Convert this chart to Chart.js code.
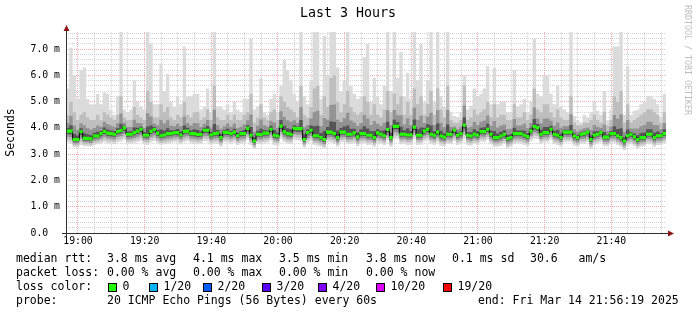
<!DOCTYPE html>
<html>
<head>
<meta charset="utf-8">
<script src="https://cdn.jsdelivr.net/npm/chart.js@4.4.1/dist/chart.umd.min.js"></script>
<style>
  html, body { margin: 0; padding: 0; background: #fff; }
  canvas { display: block; }
</style>
</head>
<body>
<canvas id="chart" width="697" height="315"></canvas>
<script>
// Smokeping "Last 3 Hours" — one sample per minute, x in minutes since midnight
const startMin = 1136.4;           // 18:56:24, first sample
const timeLabels = ['19:00', '19:20', '19:40', '20:00', '20:20', '20:40', '21:00', '21:20', '21:40'];
const yLabels = ['0.0', '1.0 m', '2.0 m', '3.0 m', '4.0 m', '5.0 m', '6.0 m', '7.0 m'];

// median rtt (ms)
const median = [
  3.88,3.88,3.56,3.56,3.86,3.60,3.60,3.58,3.69,3.69,3.78,3.87,3.80,3.78,3.76,3.86,3.90,4.00,3.76,3.76,3.82,3.88,3.95,3.72,3.72,3.87,3.94,3.80,3.70,3.73,3.78,3.78,3.82,3.82,3.73,3.87,
  3.88,3.78,3.78,3.75,3.76,3.91,3.91,3.73,3.78,3.80,3.63,3.83,3.83,3.78,3.84,3.70,3.78,3.78,3.98,3.72,3.50,3.76,3.74,3.80,3.80,3.95,3.72,3.69,4.07,3.85,3.78,3.76,3.98,3.97,3.97,3.56,
  3.82,3.91,3.70,3.70,3.63,3.56,3.84,3.84,3.78,3.63,3.84,3.84,3.76,3.76,3.81,3.66,3.78,3.78,3.72,3.72,3.63,3.81,3.76,3.70,3.94,3.63,4.06,4.06,3.76,3.76,3.73,3.73,4.03,3.72,3.72,3.88,
  3.95,3.76,3.72,3.84,3.69,3.65,3.76,3.76,3.91,3.72,3.78,4.10,3.72,3.69,3.76,3.72,3.86,3.86,3.95,3.76,3.63,3.63,3.69,3.76,3.59,3.63,3.78,3.78,3.78,3.72,3.67,3.88,4.05,4.01,3.76,3.82,
  3.82,3.95,3.76,3.72,3.63,3.84,3.84,3.84,3.69,3.63,3.76,3.78,3.84,3.56,3.72,3.76,3.82,3.65,3.65,3.78,3.78,3.70,3.63,3.50,3.70,3.76,3.66,3.55,3.63,3.63,3.76,3.76,3.63,3.70,3.70,3.78
];
// slowest ping of each round (top of the light smoke)
const pingMax = [
  5.5,7.05,6.0,5.1,6.2,6.3,5.1,4.9,4.9,5.3,4.9,5.35,5.3,4.7,4.5,5.2,7.65,4.7,4.6,4.7,5.8,5.0,4.8,4.7,7.65,7.2,4.9,4.9,6.45,5.4,6.05,5.0,4.8,5.2,4.9,7.1,
  5.2,5.2,5.3,5.3,4.7,4.8,5.5,4.6,7.65,4.8,4.8,4.7,4.9,4.6,5.0,4.7,4.6,5.1,5.1,7.4,4.7,4.8,5.9,4.6,4.5,5.1,5.3,4.6,5.6,6.6,6.2,5.8,5.3,5.0,7.65,5.2,
  4.9,5.8,7.65,7.65,5.1,7.5,6.0,7.65,7.65,6.3,5.4,5.8,7.65,5.6,5.3,5.1,5.2,6.7,7.2,5.0,5.9,5.2,4.9,5.6,7.65,5.4,7.65,5.9,6.9,5.2,6.1,5.1,7.65,5.8,7.2,5.0,
  5.8,7.65,5.0,7.65,5.2,4.8,7.65,4.6,4.45,4.4,4.6,6.0,4.7,4.85,5.5,5.2,5.3,5.5,6.35,4.9,6.3,4.9,5.0,5.0,4.6,4.6,6.2,4.8,4.9,5.1,4.6,5.0,7.4,5.3,5.2,6.0,
  6.0,5.3,4.9,5.6,4.8,4.7,4.6,7.65,4.45,4.3,4.2,4.5,4.4,4.6,5.0,4.65,4.5,5.4,4.3,4.7,7.1,7.1,7.65,4.5,6.35,4.5,4.65,4.7,4.9,5.0,5.2,5.2,5.1,4.9,4.4,5.3
];
// top of the medium grey smoke
const pingUpper = [
  4.5,5.0,4.6,4.3,4.5,4.6,4.4,4.3,4.3,4.5,4.3,4.6,4.5,4.4,4.3,4.5,5.2,4.4,4.3,4.3,4.8,4.5,4.4,4.3,5.4,5.0,4.4,4.4,4.9,4.6,4.8,4.4,4.3,4.5,4.4,5.0,
  4.5,4.4,4.6,4.6,4.3,4.4,4.7,4.3,5.6,4.4,4.3,4.3,4.5,4.3,4.5,4.3,4.3,4.5,4.6,5.3,4.2,4.4,4.9,4.4,4.3,4.6,4.7,4.3,5.2,5.0,4.8,4.7,4.6,4.4,5.6,4.5,
  4.4,4.8,5.5,5.6,4.5,5.2,4.8,5.9,6.0,5.0,4.6,4.9,5.4,4.8,4.6,4.5,4.6,5.2,5.0,4.5,4.9,4.5,4.4,4.7,5.4,4.6,5.3,4.9,5.2,4.5,5.0,4.5,5.5,4.9,5.2,4.5,
  4.9,5.4,4.5,5.5,4.7,4.4,5.6,4.3,4.2,4.2,4.3,5.6,4.3,4.4,4.7,4.5,4.6,4.7,5.0,4.4,4.9,4.4,4.5,4.5,4.3,4.3,4.9,4.4,4.4,4.6,4.3,4.5,5.5,4.7,4.6,4.9,
  4.9,4.6,4.4,4.7,4.4,4.3,4.3,5.2,4.2,4.1,4.1,4.2,4.2,4.3,4.5,4.3,4.2,4.6,4.1,4.3,5.2,5.0,5.4,4.2,4.9,4.2,4.3,4.4,4.5,4.6,4.7,4.7,4.6,4.5,4.2,4.6
];
// fastest ping of each round (bottom of the smoke)
const pingMin = [
  3.45,3.40,3.25,3.25,3.35,3.30,3.30,3.28,3.35,3.38,3.40,3.45,3.42,3.40,3.38,3.45,3.48,3.55,3.38,3.40,3.42,3.45,3.50,3.38,3.35,3.45,3.50,3.42,3.35,3.38,3.40,3.42,3.45,3.44,3.38,3.45,
  3.50,3.42,3.40,3.38,3.40,3.50,3.48,3.35,3.40,3.42,3.28,3.45,3.44,3.40,3.45,3.35,3.40,3.42,3.55,3.35,3.20,3.40,3.38,3.42,3.44,3.52,3.35,3.32,3.60,3.45,3.40,3.38,3.55,3.52,3.50,3.25,
  3.42,3.50,3.35,3.32,3.28,3.22,3.45,3.44,3.40,3.28,3.45,3.46,3.38,3.40,3.42,3.30,3.40,3.42,3.35,3.36,3.28,3.42,3.40,3.35,3.52,3.28,3.60,3.58,3.38,3.40,3.35,3.36,3.60,3.35,3.36,3.48,
  3.52,3.40,3.35,3.45,3.32,3.30,3.40,3.38,3.50,3.35,3.40,3.62,3.35,3.32,3.40,3.35,3.48,3.46,3.55,3.38,3.28,3.28,3.32,3.40,3.22,3.28,3.40,3.42,3.40,3.35,3.30,3.50,3.60,3.58,3.40,3.45,
  3.45,3.55,3.38,3.35,3.28,3.46,3.45,3.46,3.32,3.28,3.40,3.40,3.46,3.20,3.35,3.40,3.45,3.30,3.30,3.40,3.42,3.35,3.28,3.15,3.32,3.38,3.30,3.20,3.28,3.30,3.40,3.38,3.28,3.35,3.35,3.42
];

const lossLabels = ['0', '1/20', '2/20', '3/20', '4/20', '10/20', '19/20'];
const lossColors = ['#22ff00', '#00b4ff', '#005cff', '#5a00ff', '#8000ff', '#dd00ff', '#ff0000'];

const MONO = '"DejaVu Sans Mono", monospace';
const GRID_MINOR = 'rgba(150,150,150,0.42)';
const GRID_MAJOR = 'rgba(225,70,70,0.45)';

const toMin = s => { const [h, m] = s.split(':').map(Number); return h * 60 + m; };
const fmtMin = v => { const h = Math.floor(v / 60), m = Math.round(v % 60); return h + ':' + String(m).padStart(2, '0'); };
const majorMinutes = timeLabels.map(toMin);

// step lines: value i holds from startMin+i to startMin+i+1
const toPts = arr => arr.map((v, i) => ({ x: startMin + i, y: v })).concat([{ x: startMin + arr.length, y: arr[arr.length - 1] }]);
const mix = (a, b, k) => a.map((v, i) => v + (b[i] - v) * k);

// smoke shades, outer to inner
const smoke = [
  { lo: pingMin, hi: pingMax, color: '#dbdbdb' },
  { lo: mix(median, pingMin, 0.75), hi: pingUpper, color: '#bebebe' },
  { lo: mix(median, pingMin, 0.5), hi: mix(median, pingUpper, 0.5), color: '#939393' },
  { lo: mix(median, pingMin, 0.25), hi: mix(median, pingUpper, 0.2), color: '#555555' }
];

const base = { stepped: 'before', pointRadius: 0, borderWidth: 0, borderColor: 'transparent', fill: false };
const datasets = [];
smoke.forEach((s, j) => {
  datasets.push({ ...base, data: toPts(s.lo), order: 20 - 2 * j });
  datasets.push({ ...base, data: toPts(s.hi), fill: '-1', backgroundColor: s.color, order: 20 - 2 * j });
});
datasets.push({ ...base, data: toPts(median), borderWidth: 1, borderColor: '#000', order: 4 });
datasets.push({ ...base, data: toPts(median.map(v => v - 0.06)), order: 2 });
datasets.push({ ...base, data: toPts(median.map(v => v + 0.06)), fill: '-1', backgroundColor: lossColors[0], order: 2 });

const rrdText = {
  id: 'rrdText',
  beforeDraw(chart) {
    const ctx = chart.ctx;
    ctx.save();
    ctx.fillStyle = '#fff';
    ctx.fillRect(0, 0, chart.width, chart.height);
    ctx.restore();
  },
  afterDraw(chart) {
    const ctx = chart.ctx;
    const { left, right, bottom, top } = chart.chartArea;
    ctx.save();

    // axes with arrows
    ctx.strokeStyle = '#303030';
    ctx.lineWidth = 1;
    ctx.beginPath();
    ctx.moveTo(left + 0.5, bottom + 4);
    ctx.lineTo(left + 0.5, top - 3);
    ctx.moveTo(left - 4, bottom + 0.5);
    ctx.lineTo(right + 3, bottom + 0.5);
    ctx.stroke();
    ctx.fillStyle = '#8a1515';
    ctx.beginPath();
    ctx.moveTo(left + 0.5, top - 7);
    ctx.lineTo(left - 2.5, top - 1);
    ctx.lineTo(left + 3.5, top - 1);
    ctx.closePath();
    ctx.fill();
    ctx.beginPath();
    ctx.moveTo(right + 8, bottom + 0.5);
    ctx.lineTo(right + 2, bottom - 2.5);
    ctx.lineTo(right + 2, bottom + 3.5);
    ctx.closePath();
    ctx.fill();

    // title
    ctx.fillStyle = '#000';
    ctx.font = '13.3px ' + MONO;
    ctx.textAlign = 'center';
    ctx.textBaseline = 'middle';
    ctx.fillText('Last 3 Hours', 348, 14);

    // watermark
    ctx.save();
    ctx.translate(687, 5);
    ctx.rotate(Math.PI / 2);
    ctx.font = '8.3px ' + MONO;
    ctx.fillStyle = '#bdbdbd';
    ctx.textAlign = 'left';
    ctx.fillText('RRDTOOL / TOBI OETIKER', 0, 0);
    ctx.restore();

    // legend
    ctx.font = '11.5px ' + MONO;
    ctx.textAlign = 'left';
    ctx.textBaseline = 'middle';
    ctx.fillStyle = '#000';
    const rows = [
      [259, [[16, 'median rtt:'], [107, '3.8 ms avg'], [193, '4.1 ms max'], [279, '3.5 ms min'], [366, '3.8 ms now'], [452, '0.1 ms sd'], [530, '30.6   am/s']]],
      [273, [[16, 'packet loss:'], [107, '0.00 % avg'], [193, '0.00 % max'], [279, '0.00 % min'], [366, '0.00 % now']]],
      [287, [[16, 'loss color:']]],
      [301, [[16, 'probe:'], [107, '20 ICMP Echo Pings (56 Bytes) every 60s'], [478, 'end: Fri Mar 14 21:56:19 2025']]]
    ];
    rows.forEach(([y, items]) => items.forEach(([x, t]) => ctx.fillText(t, x, y)));

    const boxX = [108, 149, 203, 262, 318, 376, 443];
    lossLabels.forEach((lab, i) => {
      ctx.fillStyle = lossColors[i];
      ctx.fillRect(boxX[i], 283, 9, 9);
      ctx.strokeStyle = '#000';
      ctx.strokeRect(boxX[i] + 0.5, 283.5, 8, 8);
      ctx.fillStyle = '#000';
      ctx.fillText(lab, boxX[i] + 14.5, 287);
    });
    ctx.restore();
  }
};

new Chart(document.getElementById('chart'), {
  type: 'line',
  data: { datasets },
  plugins: [rrdText],
  options: {
    responsive: false,
    animation: false,
    devicePixelRatio: 1,
    layout: { padding: { left: 0, right: 31, top: 32, bottom: 0 } },
    plugins: { legend: { display: false }, title: { display: false }, tooltip: { enabled: false } },
    scales: {
      x: {
        type: 'linear',
        min: startMin,
        max: startMin + median.length,
        z: 1,
        afterBuildTicks: s => {
          const t = [];
          for (let v = Math.ceil(startMin / 5) * 5; v < startMin + median.length; v += 5) t.push({ value: v });
          s.ticks = t;
        },
        afterFit: s => { s.height = 82; },
        ticks: {
          autoSkip: false, maxRotation: 0, padding: 3, color: '#000',
          font: { family: MONO, size: 9.8 },
          callback: v => majorMinutes.includes(Math.round(v)) ? fmtMin(v) : ''
        },
        grid: {
          drawTicks: false, lineWidth: 1,
          color: c => majorMinutes.includes(Math.round(c.tick.value)) ? GRID_MAJOR : GRID_MINOR
        },
        border: { display: false, dash: [1, 1] }
      },
      y: {
        min: 0,
        max: 7.65,
        z: 1,
        afterBuildTicks: s => {
          const t = [];
          for (let k = 0; k * 0.2 <= 7.65; k++) t.push({ value: k * 0.2 });
          s.ticks = t;
        },
        afterFit: s => { s.width = 66; },
        ticks: {
          autoSkip: false, padding: 6, color: '#000',
          font: { family: MONO, size: 9.8 },
          callback: v => { const k = Math.round(v * 5); return k % 5 === 0 ? yLabels[k / 5].padEnd(5, ' ') : ''; }
        },
        grid: {
          drawTicks: false, lineWidth: 1,
          color: c => Math.round(c.tick.value * 5) % 5 === 0 ? GRID_MAJOR : GRID_MINOR
        },
        border: { display: false, dash: [1, 1] },
        title: { display: true, text: 'Seconds', color: '#000', font: { family: MONO, size: 11.5 }, padding: { top: 4, bottom: 0 } }
      }
    }
  }
});
</script>
</body>
</html>
